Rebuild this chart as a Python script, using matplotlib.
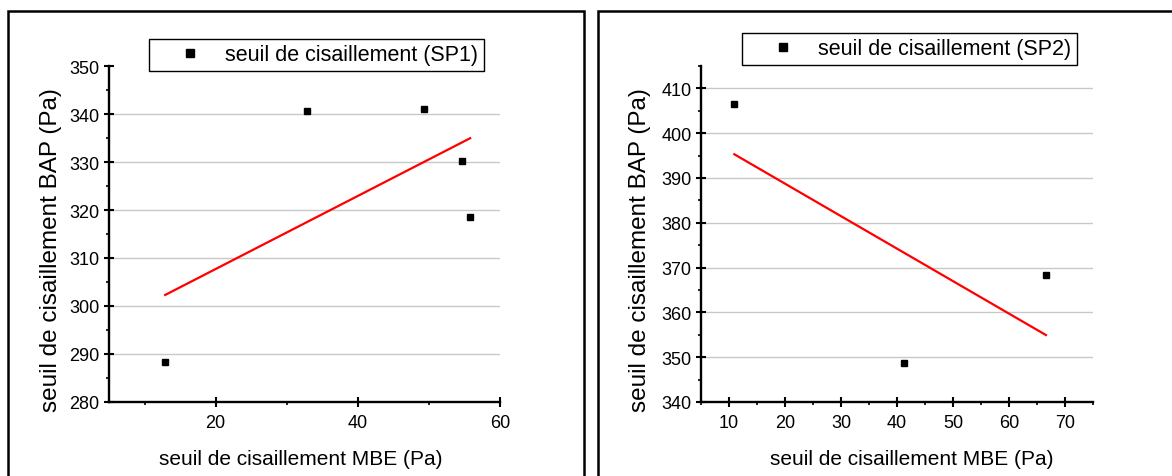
import numpy as np
import matplotlib
matplotlib.use("Agg")
from matplotlib import pyplot as plt
from matplotlib.patches import Rectangle
from matplotlib.ticker import MultipleLocator

plt.rcParams['font.family'] = ['Liberation Sans', 'DejaVu Sans']

# SP1 data (MBE vs BAP yield stress)
sp1_mbe = [12.9, 32.9, 49.3, 54.7, 55.8]
sp1_bap = [288.4, 340.6, 341.1, 330.2, 318.6]

# SP2 data
sp2_mbe = [10.95, 41.2, 66.6]
sp2_bap = [406.6, 348.6, 368.4]

x_label = "seuil de cisaillement MBE (Pa)"
y_label = "seuil de cisaillement BAP (Pa)"
legend_sp1 = "seuil de cisaillement (SP1)"
legend_sp2 = "seuil de cisaillement (SP2)"

W, H = 1172, 477
fig = plt.figure(figsize=(W / 100, H / 100), dpi=100)


def fx(px):
    return px / W


def fy(py):
    return 1 - py / H


def draw_panel(rect, mbe, bap, label, xlim, ylim, xmajor, xminor, yticks,
               leg_xy, xlabel_x, ylabel_x):
    ax = fig.add_axes(rect)
    ax.plot(mbe, bap, 's', color='black', markersize=4.8, label=label)
    # linear fit
    slope, icpt = np.polyfit(mbe, bap, 1)
    xs = np.array([min(mbe), max(mbe)])
    ax.plot(xs, slope * xs + icpt, color='red', linewidth=1.6)

    ax.set_xlim(*xlim)
    ax.set_ylim(*ylim)
    ax.xaxis.set_major_locator(MultipleLocator(xmajor))
    ax.xaxis.set_minor_locator(MultipleLocator(xminor))
    ax.set_yticks(yticks)
    ax.yaxis.set_minor_locator(MultipleLocator(5))

    for s in ['top', 'right']:
        ax.spines[s].set_visible(False)
    for s in ['left', 'bottom']:
        ax.spines[s].set_linewidth(1.7)

    ax.tick_params(axis='both', which='major', direction='inout', length=7.5,
                   width=1.5, labelsize=13, pad=3)
    ax.tick_params(axis='x', which='major', pad=5)
    ax.tick_params(axis='both', which='minor', direction='out', length=2.2,
                   width=1.2)

    ax.yaxis.grid(True, color='#c8c8c8', linewidth=1.0)
    ax.set_axisbelow(True)
    for val, gl in zip(ax.get_yticks(), ax.get_ygridlines()):
        if val <= ylim[0] or val >= ylim[1]:
            gl.set_visible(False)

    ax.set_xlabel(x_label, fontsize=15)
    ax.set_ylabel(y_label, fontsize=17.5)
    ax.xaxis.set_label_coords(xlabel_x, -0.14)
    ax.yaxis.set_label_coords(ylabel_x, 0.455)

    leg = ax.legend(loc='upper left', bbox_to_anchor=(fx(leg_xy[0]), fy(leg_xy[1])),
                    bbox_transform=fig.transFigure, fontsize=15.5, borderpad=0.25,
                    borderaxespad=0, handlelength=3.3, handletextpad=0.0,
                    numpoints=1, fancybox=False, framealpha=1, markerscale=1.1)
    leg.get_frame().set_edgecolor('black')
    leg.get_frame().set_linewidth(1.0)
    return ax


# axes placed by pixel bounds: x axis line at y=403, top at y=67
bottom = fy(403)
height = (403 - 67) / H

draw_panel([fx(109), bottom, (500 - 109) / W, height], sp1_mbe, sp1_bap, legend_sp1,
           (5, 60), (280, 350), 20, 10, np.arange(280, 351, 10), (149, 40), 0.49, -0.12)
draw_panel([fx(701), bottom, (1093 - 701) / W, height], sp2_mbe, sp2_bap, legend_sp2,
           (5, 75), (340, 415), 10, 5, np.arange(340, 411, 10), (742, 34), 0.537, -0.128)

# panel frames
fig.patches.append(Rectangle((fx(8), -0.2), fx(584 - 8), fy(12) + 0.2, fill=False,
                             edgecolor='black', linewidth=1.8,
                             transform=fig.transFigure, figure=fig))
fig.patches.append(Rectangle((fx(598), -0.2), 0.5, fy(12) + 0.2, fill=False,
                             edgecolor='black', linewidth=1.8,
                             transform=fig.transFigure, figure=fig))

fig.savefig("out.png", dpi=100)
